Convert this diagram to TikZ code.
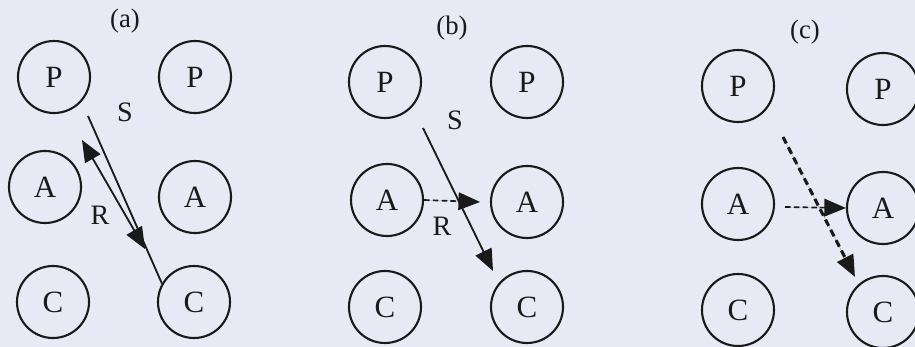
\documentclass[tikz,border=0pt]{standalone}
\usepackage{fontspec}
\setmainfont{Liberation Serif}
\usepackage{xcolor}
\usepackage{tikz}
\usetikzlibrary{arrows.meta}
\definecolor{rxInk}{HTML}{1A1A1A}
\definecolor{rxPaper}{HTML}{E7E9F4}
\tikzset{
  >={Triangle[length=5.4mm,width=4.4mm]},
  unit/.style={circle, draw=rxInk, line width=1.5pt, minimum size=1.8cm, inner sep=0pt,
               text=rxInk, font=\fontsize{22}{24}\selectfont},
  panel/.style={text=rxInk, font=\fontsize{19}{21}\selectfont},
  tag/.style={text=rxInk, font=\fontsize{20}{22}\selectfont},
  plain/.style={draw=rxInk, line width=1.3pt},
  flow/.style={->, draw=rxInk, fill=rxInk, line width=1.3pt},
  both/.style={<->, draw=rxInk, fill=rxInk, line width=1.3pt},
  weak/.style={->, draw=rxInk, fill=rxInk, line width=1.2pt, dash pattern=on 1.4mm off 0.8mm},
  strong/.style={->, draw=rxInk, fill=rxInk, line width=2.2pt, dash pattern=on 1.8mm off 1.1mm},
}
\begin{document}
\begin{tikzpicture}[x=0.025cm, y=-0.025cm]
  \fill[rxPaper] (0,0) rectangle (915,347);
  \useasboundingbox (0,0) rectangle (915,347);

  \node[panel] (tagA) at (125,21) {(a)};
  \node[unit] (aP1) at (54,77) {P};
  \node[unit] (aP2) at (195,77) {P};
  \node[unit] (aA1) at (45,187) {A};
  \node[unit] (aA2) at (195,197) {A};
  \node[unit] (aC1) at (53,302) {C};
  \node[unit] (aC2) at (194,302) {C};
  \node[tag] (aS) at (125,112) {S};
  \node[tag] (aR) at (100,215) {R};
  \coordinate (aS0) at (88,116);
  \coordinate (aR0) at (82,140);
  \coordinate (aR1) at (145,249);

  \node[panel] (tagB) at (452,28) {(b)};
  \node[unit] (bP1) at (385,82) {P};
  \node[unit] (bP2) at (527,82) {P};
  \node[unit] (bA1) at (387,200) {A};
  \node[unit] (bA2) at (527,202) {A};
  \node[unit] (bC1) at (385,307) {C};
  \node[unit] (bC2) at (527,307) {C};
  \node[tag] (bS) at (455,120) {S};
  \node[tag] (bR) at (442,226) {R};
  \coordinate (bS0) at (423,128);
  \coordinate (bS1) at (493,271);

  \node[panel] (tagC) at (805,32) {(c)};
  \node[unit] (cP1) at (738,86) {P};
  \node[unit] (cP2) at (883,89) {P};
  \node[unit] (cA1) at (738,204) {A};
  \node[unit] (cA2) at (883,208) {A};
  \node[unit] (cC1) at (738,310) {C};
  \node[unit] (cC2) at (883,312) {C};
  \coordinate (cS0) at (783,137);
  \coordinate (cS1) at (855,277);
  \coordinate (cR0) at (785,207);

  \draw[plain] (aS0) -- (aC2.150);
  \draw[both] (aR0) -- (aR1);
  \draw[flow] (bS0) -- (bS1);
  \draw[weak] (bA1.east) -- ([xshift=-7]bA2.west);
  \draw[strong] (cS0) -- (cS1);
  \draw[weak] (cR0) -- (cA2.west);
\end{tikzpicture}
\end{document}
